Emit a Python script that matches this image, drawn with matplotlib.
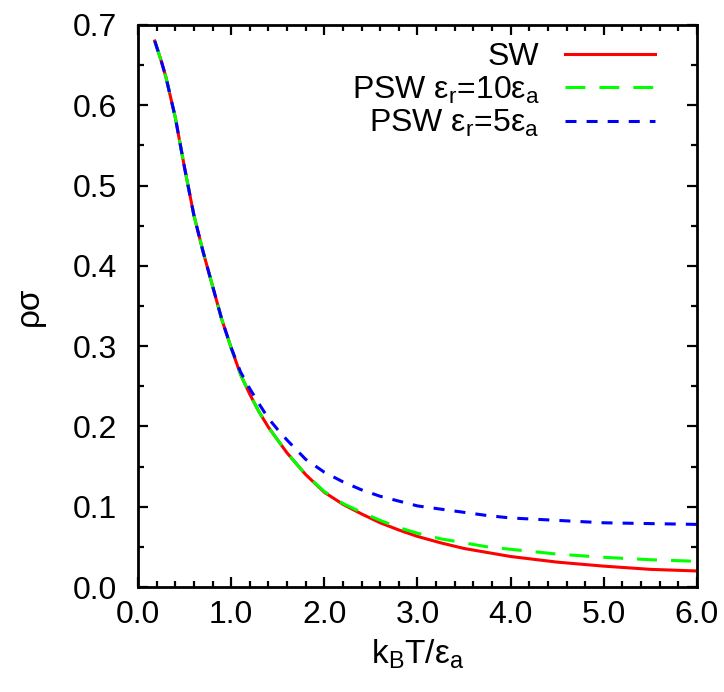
import matplotlib
matplotlib.use("Agg")
import matplotlib.pyplot as plt
from matplotlib.ticker import MultipleLocator, FormatStrFormatter

plt.rcParams['font.family'] = ['Liberation Sans', 'DejaVu Sans']
plt.rcParams['mathtext.fontset'] = 'custom'
plt.rcParams['mathtext.rm'] = 'Liberation Sans'
plt.rcParams['mathtext.it'] = 'Liberation Sans'
plt.rcParams['mathtext.sf'] = 'Liberation Sans'

# values
T_sw = [0.18, 0.25, 0.3, 0.4, 0.5, 0.6, 0.7, 0.8, 0.9, 1.0, 1.1, 1.2, 1.3, 1.4, 1.5,
        1.6, 1.8, 2.0, 2.2, 2.4, 2.6, 2.8, 3.0, 3.25, 3.5, 3.75, 4.0, 4.5, 5.0, 5.5, 6.0]
rho_sw = [0.680, 0.655, 0.635, 0.585, 0.522, 0.463, 0.417, 0.375, 0.333, 0.298, 0.265,
          0.240, 0.218, 0.199, 0.183, 0.167, 0.140, 0.118, 0.103, 0.091, 0.080, 0.071,
          0.063, 0.055, 0.048, 0.043, 0.038, 0.031, 0.026, 0.022, 0.020]

T_psw10 = T_sw
rho_psw10 = [0.680, 0.655, 0.635, 0.585, 0.522, 0.463, 0.417, 0.375, 0.333, 0.298, 0.265,
             0.240, 0.218, 0.199, 0.183, 0.167, 0.140, 0.119, 0.104, 0.093, 0.083, 0.074,
             0.067, 0.060, 0.055, 0.050, 0.047, 0.041, 0.037, 0.034, 0.032]

T_psw5 = T_sw
rho_psw5 = [0.680, 0.655, 0.635, 0.585, 0.522, 0.463, 0.417, 0.375, 0.333, 0.298, 0.268,
            0.247, 0.228, 0.210, 0.196, 0.183, 0.159, 0.143, 0.131, 0.121, 0.113, 0.107,
            0.101, 0.097, 0.093, 0.089, 0.086, 0.083, 0.080, 0.079, 0.078]

labels = ['SW',
          r'PSW $\mathrm{ε_r}$=10$\mathrm{ε_a}$',
          r'PSW $\mathrm{ε_r}$=5$\mathrm{ε_a}$']

fs = 23

fig = plt.figure(figsize=(7.24, 6.92), dpi=100)
ax = fig.add_axes([0.1906, 0.1517, 0.7721, 0.8122])

lw = 2.2
ax.plot(T_sw, rho_sw, color='#ff0000', lw=lw, label=labels[0])
ax.plot(T_psw10, rho_psw10, color='#00ff00', lw=lw, dashes=(6.5, 4.6), label=labels[1])
ax.plot(T_psw5, rho_psw5, color='#0000ff', lw=lw, dashes=(3.6, 3.3), label=labels[2])

ax.set_xlim(0, 6)
ax.set_ylim(0, 0.7)
ax.xaxis.set_major_locator(MultipleLocator(1.0))
ax.xaxis.set_minor_locator(MultipleLocator(0.2))
ax.yaxis.set_major_locator(MultipleLocator(0.1))
ax.yaxis.set_minor_locator(MultipleLocator(0.05))
ax.xaxis.set_major_formatter(FormatStrFormatter('%.1f'))
ax.yaxis.set_major_formatter(FormatStrFormatter('%.1f'))

ax.tick_params(which='both', direction='in', top=True, right=True, width=1.6,
               labelsize=fs)
ax.tick_params(which='major', length=7)
ax.tick_params(which='minor', length=4)
ax.tick_params(axis='y', pad=15)
ax.tick_params(axis='x', pad=9)
for s in ax.spines.values():
    s.set_linewidth(2)

ax.set_xlabel(r'k$_\mathrm{B}$T/ε$_\mathrm{a}$', fontsize=24)
ax.set_ylabel('ρσ', fontsize=24)
ax.xaxis.set_label_coords(0.5, -0.09)
ax.yaxis.set_label_coords(-0.166, 0.5)

leg = ax.legend(loc='upper right', frameon=False, markerfirst=False, fontsize=fs,
                handlelength=2.8, handletextpad=0.8, labelspacing=0.07,
                bbox_to_anchor=(0.947, 0.992), borderaxespad=0)

fig.savefig('out.png', dpi=100)
